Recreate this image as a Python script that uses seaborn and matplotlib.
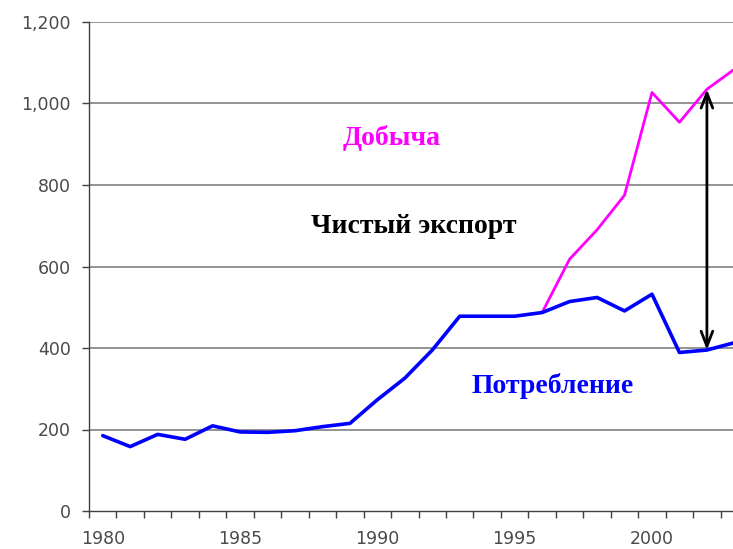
import numpy as np
import pandas as pd
import matplotlib
matplotlib.use("Agg")
import matplotlib.pyplot as plt
import seaborn as sns
from matplotlib.ticker import FixedLocator, FuncFormatter

# ---- data ----
years = list(range(1980, 2004))
consumption = [185, 158, 188, 176, 209, 194, 193, 197, 207, 215,
               273, 326, 395, 478, 478, 478, 487, 514, 524, 491,
               532, 389, 395, 413]
prod_years = list(range(1996, 2004))
production = [487, 618, 690, 775, 1027, 954, 1035, 1084]
y_ticks = [0, 200, 400, 600, 800, 1000, 1200]
x_label_years = [1980, 1985, 1990, 1995, 2000]
label_prod = "Добыча"
label_export = "Чистый экспорт"
label_cons = "Потребление"
arrow_year = 2002

sns.set_theme(style="white")
plt.rcParams['font.family'] = ['DejaVu Sans']

df_c = pd.DataFrame({"year": years, "value": consumption})
df_p = pd.DataFrame({"year": prod_years, "value": production})

fig = plt.figure(figsize=(7.33, 5.49), dpi=100)
ax = fig.add_axes([89/733, 38/549, 644/733, 489/549])

for yv in y_ticks[1:]:
    ax.axhline(yv, color="#8a8a8a", lw=1.3, zorder=1)

sns.lineplot(data=df_p, x="year", y="value", color="#FF00FF", lw=2.0, ax=ax, zorder=3)
sns.lineplot(data=df_c, x="year", y="value", color="#0000FF", lw=2.6, ax=ax, zorder=4)

ax.set_xlim(1979.5, 2002.95)
ax.set_ylim(0, 1200)
ax.set_xlabel("")
ax.set_ylabel("")

ax.yaxis.set_major_locator(FixedLocator(y_ticks))
ax.yaxis.set_major_formatter(FuncFormatter(lambda v, p: f"{int(v):,}"))
ax.xaxis.set_major_locator(FixedLocator(x_label_years))
ax.xaxis.set_minor_locator(FixedLocator([y + 0.5 for y in range(1979, 2004)]))
ax.tick_params(axis="x", which="major", length=0, pad=14, labelsize=12.5, labelcolor="#4a4a4a")
ax.tick_params(axis="x", which="minor", length=5, width=1.0, color="#404040", direction="out", bottom=True)
ax.tick_params(axis="y", which="major", length=5, width=1.0, color="#404040", direction="out", left=True,
               pad=8, labelsize=12.5, labelcolor="#4a4a4a")

for s in ["top", "right"]:
    ax.spines[s].set_visible(False)
for s in ["left", "bottom"]:
    ax.spines[s].set_color("#404040")
    ax.spines[s].set_linewidth(1.0)

# arrow between consumption and production
c_val = consumption[years.index(arrow_year)]
p_val = production[prod_years.index(arrow_year)]
ax.annotate("", xy=(arrow_year, p_val), xytext=(arrow_year, c_val),
            arrowprops=dict(arrowstyle="<->,head_length=0.9,head_width=0.35", color="black", lw=2.0,
                            shrinkA=0, shrinkB=0), zorder=5)

serif = ["Liberation Serif", "DejaVu Serif"]
ax.text(1990.53, 915, label_prod, color="#FF00FF", fontsize=20, fontweight="bold",
        family=serif, ha="center", va="center")
ax.text(1991.33, 697, label_export, color="black", fontsize=20, fontweight="bold",
        family=serif, ha="center", va="center")
ax.text(1996.39, 307, label_cons, color="#0000FF", fontsize=20, fontweight="bold",
        family=serif, ha="center", va="center")

fig.savefig("out.png", dpi=100)
